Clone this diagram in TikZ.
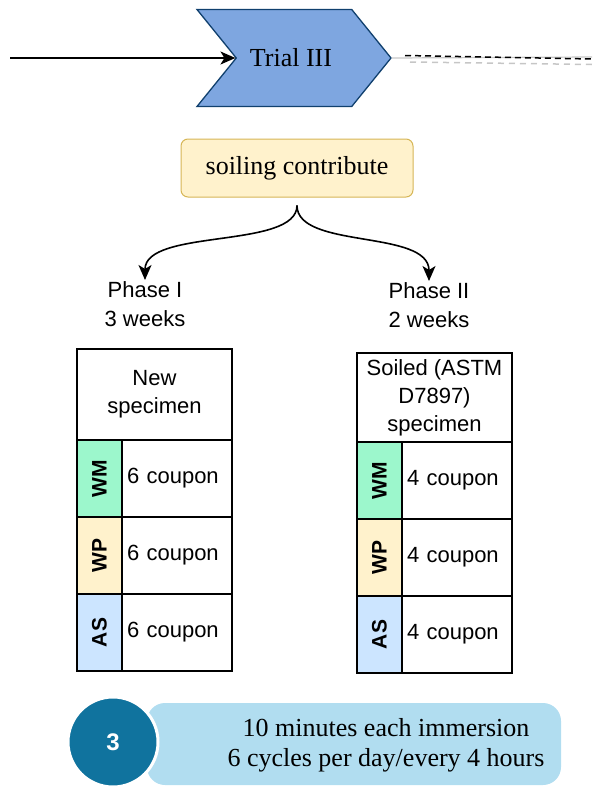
\documentclass[tikz,border=0pt]{standalone}
\usepackage{fontspec}
\setmainfont{Liberation Serif}
\setsansfont{Liberation Sans}
\usetikzlibrary{arrows.meta, positioning, shapes.symbols}
\definecolor{Chevron}{HTML}{7EA6E0}
\definecolor{Navy}{HTML}{10406E}
\definecolor{Sand}{HTML}{FFF2CC}
\definecolor{Gold}{HTML}{D6B656}
\definecolor{Mint}{HTML}{9CF7CC}
\definecolor{Sky}{HTML}{CCE5FF}
\definecolor{Deep}{HTML}{10739E}
\definecolor{Pale}{HTML}{B1DDF0}

\begin{document}
\begin{tikzpicture}[x=1pt, y=-1pt,
  node distance=0pt,
  trial/.style={signal, signal from=west, signal to=east, signal pointer angle=102,
     draw=Navy, line width=1.3pt, fill=Chevron, minimum width=194pt,
     minimum height=97pt, inner sep=0pt, font=\fontsize{26}{30}\selectfont},
  note/.style={draw=Gold, line width=1pt, rounded corners=7pt, fill=Sand,
     minimum width=232pt, minimum height=58pt, font=\fontsize{26}{30}\selectfont},
  phase/.style={align=center, inner sep=1pt, font=\sffamily\fontsize{22}{29}\selectfont},
  hdr/.style={draw, line width=1.2pt, outer sep=0pt, minimum width=155pt,
     align=center, font=\sffamily\fontsize{22}{28}\selectfont},
  tag/.style={draw, line width=1.2pt, outer sep=0pt, minimum width=45pt,
     minimum height=77pt, inner sep=0pt, font=\sffamily\bfseries\fontsize{21}{21}\selectfont},
  cell/.style={draw, line width=1.2pt, outer sep=0pt, minimum width=110pt,
     minimum height=77pt, text width=100pt, inner xsep=5pt, align=left,
     font=\sffamily\fontsize{22}{22}\selectfont},
  arr/.style={-{Stealth[length=15pt, width=13pt, inset=4pt]}, line width=1.6pt}]
  \useasboundingbox (0,0) rectangle (592,787);

  % top: incoming arrow and the trial chevron
  \node[trial] (trial) at (294,58) {\hspace*{-6pt}Trial III};
  \coordinate (start) at (10,58);
  \draw[arr] (start) -- (trial.west);
  \coordinate (out) at (592,57);
  \coordinate (dashA) at (405,55.5);
  \coordinate (dashAend) at (592,59);
  \coordinate (dashB) at (410,62);
  \coordinate (dashBend) at (592,64.5);
  \draw[gray!45, line width=1.2pt] (trial.east) -- (out);
  \draw[line width=1.5pt, dash pattern=on 6pt off 4pt] (dashA) -- (dashAend);
  \draw[gray!45, line width=1.5pt, dash pattern=on 6pt off 5pt] (dashB) -- (dashBend);

  \node[note] (soil) at (297,168) {soiling contribute};
  \coordinate[below=8pt of soil] (fork);

  \node[phase, anchor=north] (p1) at (145,280) {Phase I\\3 weeks};
  \node[phase, anchor=north] (p2) at (429,281) {Phase II\\2 weeks};
  \draw[arr] (fork) .. controls +(0,44) and +(0,-52) .. (p1.north);
  \draw[arr] (fork) .. controls +(0,44) and +(0,-52) .. (p2.north);

  % phase I table
  \node[hdr, minimum height=91pt] (lhead) at (154.5,394.5) {New\\specimen};
  \node[tag, fill=Mint, below right=0pt of lhead.south west] (lwm) {\rotatebox{90}{WM}};
  \node[cell, right=0pt of lwm] (lwmn) {6 coupon};
  \node[tag, fill=Sand, below=0pt of lwm] (lwp) {\rotatebox{90}{WP}};
  \node[cell, right=0pt of lwp] (lwpn) {6 coupon};
  \node[tag, fill=Sky, below=0pt of lwp] (las) {\rotatebox{90}{AS}};
  \node[cell, right=0pt of las] (lasn) {6 coupon};

  % phase II table
  \node[hdr, minimum height=89pt] (rhead) at (434.5,397.5) {Soiled (ASTM\\D7897)\\specimen};
  \node[tag, fill=Mint, below right=0pt of rhead.south west] (rwm) {\rotatebox{90}{WM}};
  \node[cell, right=0pt of rwm] (rwmn) {4 coupon};
  \node[tag, fill=Sand, below=0pt of rwm] (rwp) {\rotatebox{90}{WP}};
  \node[cell, right=0pt of rwp] (rwpn) {4 coupon};
  \node[tag, fill=Sky, below=0pt of rwp] (ras) {\rotatebox{90}{AS}};
  \node[cell, right=0pt of ras] (rasn) {4 coupon};

  % bottom banner
  \node[fill=Pale, rounded corners=18pt, minimum width=414pt, minimum height=82pt] (band) at (354,744) {};
  \node[circle, fill=Deep, draw=white, line width=3pt, minimum size=90pt, text=white,
        font=\sffamily\bfseries\fontsize{24}{24}\selectfont] (num) at (113,742) {3};
  \node[align=center, font=\fontsize{26}{30}\selectfont] (howto) at (386,745)
        {10 minutes each immersion\\6 cycles per day/every 4 hours};
\end{tikzpicture}
\end{document}
